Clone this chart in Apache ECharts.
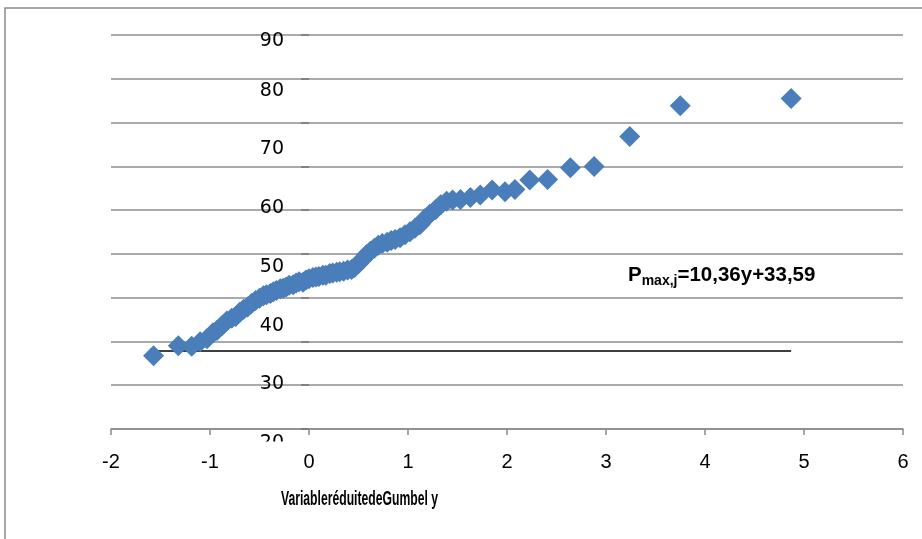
<!DOCTYPE html>
<html><head><meta charset="utf-8">
<script src="https://cdn.jsdelivr.net/npm/echarts@6/dist/echarts.min.js"></script>
<style>html,body{margin:0;padding:0;background:#fff}#c{width:922px;height:539px}</style>
</head><body><div id="c"></div>
<script>
// x-axis ticks (Gumbel reduced variable) and y-axis tick labels
const xTicks = [-2, -1, 0, 1, 2, 3, 4, 5, 6];
const yTicks = [20, 30, 40, 50, 60, 70, 80, 90];
// Gumbel reduced variable y for each observation
const gumbelY = [-1.57, -1.32, -1.185, -1.10, -1.03, -0.97, -0.93, -0.88, -0.83, -0.78,
  -0.74, -0.70, -0.66, -0.62, -0.58, -0.54, -0.50, -0.46, -0.43, -0.39,
  -0.36, -0.33, -0.29, -0.26, -0.23, -0.20, -0.16, -0.13, -0.10, -0.06,
  -0.03, 0.00, 0.04, 0.07, 0.10, 0.14, 0.17, 0.21, 0.24, 0.28,
  0.31, 0.35, 0.39, 0.43, 0.46, 0.50, 0.54, 0.58, 0.62, 0.66,
  0.70, 0.74, 0.79, 0.83, 0.87, 0.92, 0.97, 1.02, 1.07, 1.12,
  1.17, 1.22, 1.28, 1.33, 1.39, 1.45, 1.53, 1.63, 1.73, 1.85,
  1.98, 2.08, 2.23, 2.41, 2.64, 2.88, 3.24, 3.75, 4.87];
// daily maximum precipitation values
const pmax = [34.9, 36.6, 36.5, 37.3, 37.8, 38.8, 39.2, 40.0, 40.8, 41.3,
  41.6, 42.3, 42.8, 43.2, 43.8, 44.3, 44.7, 45.1, 45.3, 45.5,
  45.8, 46.0, 46.3, 46.4, 46.6, 46.9, 47.0, 47.3, 47.5, 47.4,
  47.8, 48.0, 48.2, 48.3, 48.4, 48.6, 48.6, 48.9, 49.0, 49.1,
  49.2, 49.3, 49.5, 49.6, 49.9, 50.6, 51.3, 52.1, 52.7, 53.2,
  53.7, 54.0, 54.2, 54.5, 54.7, 55.0, 55.5, 56.0, 56.6, 57.2,
  58.2, 59.0, 59.8, 60.6, 61.2, 61.4, 61.5, 61.85, 62.25, 63.1,
  62.8, 63.2, 64.8, 64.9, 66.9, 67.1, 72.2, 77.45, 78.7];
// straight black line drawn across the data range
const lineX = [-1.57, 4.87];
const lineY = [35.7, 35.7];
const xTitle = 'VariableréduitedeGumbel y';
const eqMain = 'P', eqSub = 'max,j', eqRest = '=10,36y+33,59';

const chart = echarts.init(document.getElementById('c'));
const gridCount = 9; // number of horizontal gridline bands
chart.setOption({
  animation: false,
  backgroundColor: '#fff',
  grid: [
    { left: 111, right: 19, top: 35, height: 394, outerBoundsMode: 'none', containLabel: false },
    { left: 111, right: 19, top: 32, height: 411.3, outerBoundsMode: 'none', containLabel: false }
  ],
  xAxis: [
    { gridIndex: 0, type: 'value', min: xTicks[0], max: xTicks[xTicks.length - 1], interval: 1,
      axisLine: { onZero: false, lineStyle: { color: '#8a8a8a', width: 1.5 } },
      axisTick: { show: true, length: 6, lineStyle: { color: '#8a8a8a', width: 1.5 } },
      axisLabel: { margin: 23, fontSize: 20, fontFamily: "'Liberation Sans', sans-serif", color: '#000' },
      splitLine: { show: false } },
    { gridIndex: 1, type: 'value', min: xTicks[0], max: xTicks[xTicks.length - 1], interval: 1,
      axisLine: { show: false, onZero: false }, axisTick: { show: false },
      axisLabel: { show: false }, splitLine: { show: false } }
  ],
  yAxis: [
    { gridIndex: 0, type: 'value', min: 0, max: gridCount, interval: 1,
      axisLine: { show: false, onZero: true },
      axisTick: { show: true, length: 8, lineStyle: { color: '#777', width: 1.5 } },
      axisLabel: { show: false },
      splitLine: { show: true, lineStyle: { color: '#8e8e8e', width: 1.5 } } },
    { gridIndex: 1, type: 'value', position: 'left', offset: -198,
      min: yTicks[0], max: yTicks[yTicks.length - 1], interval: 10,
      axisLine: { show: false, onZero: false },
      axisTick: { show: false },
      axisLabel: { margin: 25, fontSize: 19, fontFamily: 'DejaVu Sans', color: '#000', verticalAlignMaxLabel: 'top' },
      splitLine: { show: false } }
  ],
  series: [
    { type: 'line', xAxisIndex: 1, yAxisIndex: 1, z: 1, symbol: 'none',
      lineStyle: { color: '#000', width: 1.6 },
      data: lineX.map((x, i) => [x, lineY[i]]) },
    { type: 'scatter', xAxisIndex: 1, yAxisIndex: 1, z: 2, symbol: 'diamond', symbolSize: 21,
      itemStyle: { color: '#4a7ebb', opacity: 1 },
      data: gumbelY.map((x, i) => [x, pmax[i]]) }
  ],
  graphic: [
    { type: 'rect', z: -10, silent: true, shape: { x: 5, y: 8, width: 1000, height: 600 },
      style: { fill: 'none', stroke: '#8a8a8a', lineWidth: 1.5 } },
    { type: 'rect', z: 100, silent: true, shape: { x: 250, y: 441.5, width: 50, height: 11 },
      style: { fill: '#fff' } },
    { type: 'text', z: 100, x: 359.5, y: 499, scaleX: 0.58, scaleY: 1,
      style: { text: xTitle, fontSize: 21, fontWeight: 'bold', fontFamily: 'Liberation Sans',
        fill: '#000', align: 'center', verticalAlign: 'middle' } },
    { type: 'text', z: 100, left: 628, top: 265,
      style: { text: '{p|' + eqMain + '}{s|' + eqSub + '}{p|' + eqRest + '}',
        rich: {
          p: { fontSize: 20.5, fontWeight: 'bold', fontFamily: 'Liberation Sans', fill: '#000', lineHeight: 26, verticalAlign: 'middle' },
          s: { fontSize: 14, fontWeight: 'bold', fontFamily: 'Liberation Sans', fill: '#000', lineHeight: 26, verticalAlign: 'bottom' }
        } } }
  ]
});
</script></body></html>
